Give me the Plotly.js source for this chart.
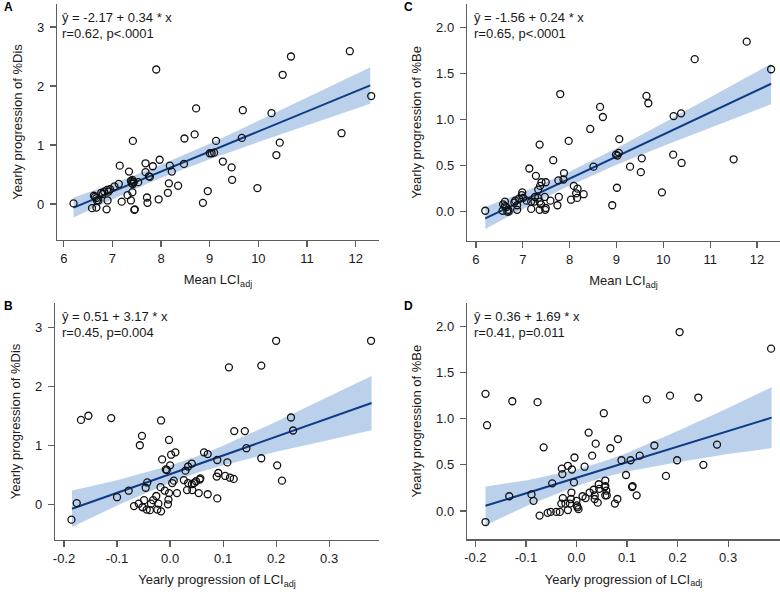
<!DOCTYPE html>
<html>
<head>
<meta charset="utf-8">
<script src="https://cdn.plot.ly/plotly-3.0.1.min.js"></script>
<style>
  html, body { margin: 0; padding: 0; background: #ffffff; }
  #chart { width: 780px; height: 592px; }
</style>
</head>
<body>
<div id="chart"></div>
<script>
// ---------- Panel A: Mean LCIadj vs yearly progression of %Dis ----------
const aX = [6.20,6.58,6.67,6.62,6.64,6.67,6.68,6.71,6.77,6.80,6.83,6.88,6.90,6.89,6.92,6.95,7.04,7.13,7.15,7.19,
  7.31,7.34,7.38,7.38,7.40,7.41,7.42,7.42,7.44,7.41,7.42,7.45,7.46,7.53,7.68,7.68,7.71,7.72,7.75,7.77,
  7.83,7.90,7.95,7.97,8.14,8.16,8.18,8.22,8.35,8.47,8.48,8.69,8.72,8.86,8.96,9.00,9.04,9.09,9.13,9.27,
  9.45,9.46,9.66,9.68,9.98,10.27,10.37,10.44,10.50,10.67,11.71,11.88,12.32];
const aY = [0.01,-0.07,-0.06,0.14,0.12,0.10,0.06,0.06,0.19,0.17,0.21,-0.09,0.06,0.24,0.21,0.25,0.30,0.34,0.65,0.04,
  0.15,0.55,0.06,0.39,0.35,0.20,0.38,0.34,0.37,0.41,1.07,-0.10,-0.09,0.37,0.69,0.54,0.11,0.02,0.47,0.46,
  0.64,2.28,0.08,0.75,0.19,0.35,0.65,0.55,0.31,0.68,1.11,1.18,1.62,0.02,0.22,0.86,0.86,0.87,1.07,0.72,
  0.62,0.41,1.12,1.59,0.27,1.54,0.83,1.04,2.19,2.50,1.20,2.59,1.83];
const aFitX = [6.2, 7.0, 7.9, 9.0, 10.0, 11.0, 12.3];
const aFitY = [-0.062, 0.21, 0.516, 0.89, 1.23, 1.57, 2.012];
const aLow  = [-0.23, 0.08, 0.41, 0.76, 1.05, 1.33, 1.70];
const aUp   = [0.11, 0.34, 0.63, 1.02, 1.41, 1.81, 2.32];

// ---------- Panel C: Mean LCIadj vs yearly progression of %Be ----------
const cX = [6.20,6.57,6.58,6.62,6.62,6.65,6.67,6.69,6.70,6.82,6.84,6.88,6.88,6.92,6.98,6.99,7.01,7.08,7.14,7.18,
  7.18,7.25,7.26,7.28,7.33,7.33,7.36,7.36,7.36,7.37,7.39,7.40,7.47,7.48,7.49,7.49,7.59,7.65,7.74,7.76,
  7.77,7.80,7.87,7.88,7.98,8.03,8.09,8.14,8.16,8.17,8.30,8.44,8.51,8.65,8.71,8.91,8.99,9.01,9.02,9.05,
  9.06,9.29,9.52,9.54,9.64,9.68,9.97,10.21,10.22,10.38,10.39,10.67,11.50,11.78,12.30];
const cY = [0.01,0.01,0.08,0.11,0.06,0.05,0.00,0.02,0.00,0.10,0.12,0.07,0.02,0.14,0.18,0.21,0.15,0.12,0.47,0.11,
  0.03,0.11,0.16,0.39,0.24,0.15,0.11,0.02,0.73,0.28,0.08,0.32,0.16,0.02,0.04,0.32,0.12,0.56,0.07,0.34,
  0.16,1.28,0.35,0.42,0.77,0.13,0.28,0.20,0.15,0.25,0.19,0.90,0.49,1.14,1.03,0.07,0.62,0.26,0.61,0.64,
  0.79,0.49,0.43,0.58,1.26,1.18,0.21,0.62,1.04,1.07,0.53,1.66,0.57,1.85,1.55];
const cFitX = [6.2, 7.0, 7.9, 9.0, 10.0, 11.0, 12.3];
const cFitY = [-0.072, 0.12, 0.336, 0.60, 0.84, 1.08, 1.392];
const cLow  = [-0.19, 0.03, 0.26, 0.51, 0.715, 0.915, 1.17];
const cUp   = [0.05, 0.21, 0.41, 0.69, 0.965, 1.245, 1.61];

// ---------- Panel B: yearly progression of LCIadj vs %Dis ----------
const bX = [-0.186,-0.176,-0.168,-0.154,-0.111,-0.100,-0.078,-0.068,-0.059,-0.057,-0.053,-0.052,-0.049,-0.046,-0.043,
  -0.044,-0.038,-0.036,-0.032,-0.026,-0.022,-0.024,-0.018,-0.017,-0.017,-0.015,-0.010,-0.008,-0.006,-0.004,
  -0.002,-0.003,-0.002,0.000,0.002,0.004,0.007,0.010,0.013,0.026,0.029,0.032,0.034,0.034,0.041,
  0.041,0.042,0.045,0.049,0.054,0.056,0.057,0.064,0.071,0.071,0.088,0.089,0.089,0.091,0.104,
  0.108,0.111,0.113,0.120,0.121,0.141,0.144,0.172,0.172,0.200,0.202,0.211,0.228,0.232,0.379];
const bY = [-0.26,0.02,1.43,1.50,1.46,0.12,0.23,-0.03,0.01,1.00,1.16,-0.05,0.07,0.28,0.37,
  -0.09,-0.10,0.01,0.07,0.14,0.01,-0.09,0.29,-0.12,1.42,0.76,0.23,0.59,0.58,0.00,
  0.19,0.08,1.09,0.66,0.84,0.36,0.40,0.88,0.19,0.41,0.57,0.24,0.64,0.36,0.69,
  0.34,0.24,0.36,0.39,0.19,0.42,0.44,0.88,0.17,0.85,0.47,0.75,0.10,0.53,0.48,
  0.71,2.32,0.45,0.43,1.24,1.24,0.95,0.78,2.35,2.77,0.66,0.40,1.47,1.25,2.77];
const bFitX = [-0.185, -0.1, 0.0, 0.05, 0.1, 0.2, 0.3, 0.38];
const bFitY = [-0.076, 0.193, 0.51, 0.669, 0.827, 1.144, 1.461, 1.715];
const bLow  = [-0.386, -0.022, 0.365, 0.529, 0.662, 0.889, 1.091, 1.255];
const bUp   = [0.234, 0.408, 0.655, 0.809, 0.992, 1.399, 1.831, 2.175];

// ---------- Panel D: yearly progression of LCIadj vs %Be ----------
const dX = [-0.180,-0.177,-0.180,-0.133,-0.127,-0.089,-0.085,-0.077,-0.073,-0.065,-0.057,-0.051,-0.048,-0.040,-0.033,
  -0.029,-0.028,-0.027,-0.030,-0.022,-0.017,-0.017,-0.013,-0.010,-0.009,-0.011,-0.005,-0.004,0.000,0.001,
  0.002,0.004,0.012,0.016,0.018,0.024,0.026,0.031,0.034,0.036,0.036,0.038,0.042,0.044,0.045,
  0.054,0.056,0.057,0.057,0.059,0.057,0.060,0.067,0.076,0.081,0.082,0.089,0.098,0.107,0.110,
  0.111,0.119,0.125,0.139,0.154,0.177,0.185,0.199,0.204,0.241,0.251,0.278,0.385];
const dY = [1.27,0.93,-0.12,0.16,1.19,0.18,0.11,1.18,-0.05,0.69,-0.02,-0.01,0.30,-0.01,-0.01,
  0.46,0.40,0.14,0.08,0.08,0.49,0.01,0.08,0.20,0.45,0.13,0.31,0.58,0.11,0.06,
  0.04,0.02,0.16,0.48,0.14,0.85,0.20,0.60,0.23,0.17,0.13,0.73,0.09,0.29,0.24,
  1.06,0.26,0.33,0.27,0.22,0.17,0.17,0.68,0.08,0.13,0.78,0.55,0.39,0.55,0.26,
  0.27,0.17,0.60,1.21,0.71,0.38,1.25,0.55,1.94,1.23,0.50,0.72,1.76];
const dFitX = [-0.18, -0.1, 0.0, 0.05, 0.1, 0.2, 0.3, 0.386];
const dFitY = [0.056, 0.191, 0.36, 0.4445, 0.529, 0.698, 0.867, 1.012];
const dLow  = [-0.154, 0.051, 0.27, 0.358, 0.429, 0.528, 0.617, 0.682];
const dUp   = [0.266, 0.331, 0.45, 0.532, 0.629, 0.868, 1.117, 1.342];

// ---------- Tick values / labels ----------
const lciTicks = [6, 7, 8, 9, 10, 11, 12];
const lciTickText = ["6", "7", "8", "9", "10", "11", "12"];
const disTicks = [0, 1, 2, 3];
const disTickText = ["0", "1", "2", "3"];
const beTicks = [0, 0.5, 1, 1.5, 2];
const beTickText = ["0.0", "0.5", "1.0", "1.5", "2.0"];
const progTicks = [-0.2, -0.1, 0, 0.1, 0.2, 0.3];
const progTickText = ["-0.2", "-0.1", "0.0", "0.1", "0.2", "0.3"];

// ---------- Text ----------
const panelLetters = ["A", "C", "B", "D"];
const eqText = ["ŷ = -2.17 + 0.34 * x", "ŷ = -1.56 + 0.24 * x", "ŷ = 0.51 + 3.17 * x", "ŷ = 0.36 + 1.69 * x"];
const statText = ["r=0.62, p<.0001", "r=0.65, p<.0001", "r=0.45, p=0.004", "r=0.41, p=0.011"];
const xTitles = ["Mean LCI<sub>adj</sub>", "Mean LCI<sub>adj</sub>", "Yearly progression of LCI<sub>adj</sub>", "Yearly progression of LCI<sub>adj</sub>"];
const yTitles = ["Yearly progression of %Dis", "Yearly progression of %Be", "Yearly progression of %Dis", "Yearly progression of %Be"];

// ---------- Styles ----------
const FONT = "Liberation Sans, Arial, sans-serif";
const TXT = "#1a1a1a";
const AXC = "#5e5e5e";
const LINEC = "#0d3b86";
const BANDC = "rgba(150,185,225,0.65)";

const panels = [
  {x: aX, y: aY, fx: aFitX, fy: aFitY, lo: aLow, up: aUp, xa: "x",  ya: "y"},
  {x: cX, y: cY, fx: cFitX, fy: cFitY, lo: cLow, up: cUp, xa: "x2", ya: "y2"},
  {x: bX, y: bY, fx: bFitX, fy: bFitY, lo: bLow, up: bUp, xa: "x3", ya: "y3"},
  {x: dX, y: dY, fx: dFitX, fy: dFitY, lo: dLow, up: dUp, xa: "x4", ya: "y4"}
];

const traces = [];
panels.forEach(p => {
  traces.push({x: p.fx, y: p.lo, xaxis: p.xa, yaxis: p.ya, mode: "lines", type: "scatter",
    line: {width: 0, color: BANDC}, hoverinfo: "skip", showlegend: false});
  traces.push({x: p.fx, y: p.up, xaxis: p.xa, yaxis: p.ya, mode: "lines", type: "scatter",
    fill: "tonexty", fillcolor: BANDC, line: {width: 0, color: BANDC}, hoverinfo: "skip", showlegend: false});
  traces.push({x: p.fx, y: p.fy, xaxis: p.xa, yaxis: p.ya, mode: "lines", type: "scatter",
    line: {width: 2, color: LINEC}, hoverinfo: "skip", showlegend: false});
  traces.push({x: p.x, y: p.y, xaxis: p.xa, yaxis: p.ya, mode: "markers", type: "scatter",
    marker: {symbol: "circle-open", size: 7, color: "#111111", line: {width: 1.3, color: "#111111"}},
    showlegend: false});
});

function xAxis(domain, range, ticks, text, title, anchor) {
  return {domain: domain, range: range, anchor: anchor, tickmode: "array", tickvals: ticks, ticktext: text,
    showline: true, linecolor: AXC, linewidth: 1.2, ticks: "outside", ticklen: 6, tickcolor: AXC, tickwidth: 1.2,
    showgrid: false, zeroline: false, tickfont: {family: FONT, size: 13, color: TXT},
    title: {text: title, font: {family: FONT, size: 13, color: TXT}, standoff: 10}, fixedrange: true};
}
function yAxis(domain, range, ticks, text, title, anchor) {
  return {domain: domain, range: range, anchor: anchor, tickmode: "array", tickvals: ticks, ticktext: text,
    showline: true, linecolor: AXC, linewidth: 1.2, ticks: "outside", ticklen: 6, tickcolor: AXC, tickwidth: 1.2,
    showgrid: false, zeroline: false, tickfont: {family: FONT, size: 13, color: TXT}, ticklabelstandoff: 3,
    title: {text: title, font: {family: FONT, size: 13, color: TXT}, standoff: 11}, fixedrange: true};
}

const W = 780, H = 592;
const px = v => v / W;
const py = v => 1 - v / H;

const layout = {
  width: W, height: H,
  margin: {l: 0, r: 0, t: 0, b: 0},
  paper_bgcolor: "#ffffff", plot_bgcolor: "#ffffff",
  showlegend: false,
  font: {family: FONT, size: 13, color: TXT},
  xaxis:  xAxis([px(57), px(379)], [5.86, 12.48], lciTicks, lciTickText, xTitles[0], "y"),
  yaxis:  yAxis([py(240), py(4)], [-0.61, 3.39], disTicks, disTickText, yTitles[0], "x"),
  xaxis2: xAxis([px(467), 1.0], [5.81, 12.49], lciTicks, lciTickText, xTitles[1], "y2"),
  yaxis2: yAxis([py(240.7), py(4)], [-0.316, 2.26], beTicks, beTickText, yTitles[1], "x2"),
  xaxis3: xAxis([px(55), px(379)], [-0.217, 0.394], progTicks, progTickText, xTitles[2], "y3"),
  yaxis3: yAxis([py(540), py(303)], [-0.605, 3.41], disTicks, disTickText, yTitles[2], "x3"),
  xaxis4: xAxis([px(467), 1.0], [-0.2166, 0.4026], progTicks, progTickText, xTitles[3], "y4"),
  yaxis4: yAxis([py(539.3), py(303)], [-0.307, 2.255], beTicks, beTickText, yTitles[3], "x4"),
  annotations: []
};

const letterPos = [[2, 7], [402, 7], [2, 306], [402, 306]];
const statPos = [[60, 17.5], [471.5, 17.5], [60, 316.7], [471.5, 316.7]];
for (let i = 0; i < 4; i++) {
  layout.annotations.push({xref: "paper", yref: "paper", x: px(letterPos[i][0]), y: py(letterPos[i][1]),
    xanchor: "left", yanchor: "middle", showarrow: false, text: "<b>" + panelLetters[i] + "</b>",
    font: {family: FONT, size: 12, color: "#000000"}});
  layout.annotations.push({xref: "paper", yref: "paper", x: px(statPos[i][0]), y: py(statPos[i][1]),
    xanchor: "left", yanchor: "middle", showarrow: false, text: eqText[i],
    font: {family: FONT, size: 13, color: TXT}});
  layout.annotations.push({xref: "paper", yref: "paper", x: px(statPos[i][0]), y: py(statPos[i][1] + 16),
    xanchor: "left", yanchor: "middle", showarrow: false, text: statText[i],
    font: {family: FONT, size: 13, color: TXT}});
}

Plotly.newPlot("chart", traces, layout, {staticPlot: true, displayModeBar: false});
</script>
</body>
</html>
